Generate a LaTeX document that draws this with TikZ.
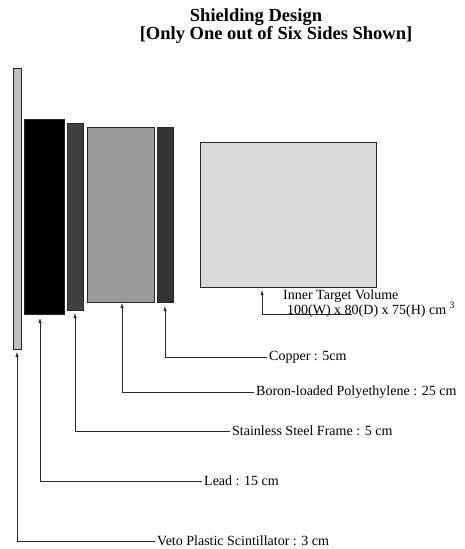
\documentclass[tikz,border=0pt]{standalone}
\usepackage{fontspec}
\setmainfont{Liberation Serif}
\usetikzlibrary{arrows.meta}
\tikzset{
	layer/.style={draw=black!85, line width=0.6pt},
	ttl/.style={anchor=base, inner sep=0pt, font=\fontsize{18.5}{19}\selectfont\bfseries},
	lbl/.style={anchor=west, inner sep=2pt, font=\fontsize{14}{14}\selectfont},
	pointer/.style={draw=black!85, line width=0.7pt, -{Latex[length=5pt,width=3.5pt]}},
}

\begin{document}
\begin{tikzpicture}[x=1pt, y=-1pt]
		\useasboundingbox (0,0) rectangle (465,549);
		%%%%% START %%%%%
		
		\node[ttl] (title) at (256,21) {Shielding Design};
		\node[ttl] (subtitle) at (276,39) {[Only One out of Six Sides Shown]};
		
		\draw[layer, fill=black!25] (13,68) rectangle (21,349);
		\draw[layer, fill=black] (24,119) rectangle (64,314);
		\draw[layer, fill=black!75] (67,123) rectangle (83,310);
		\draw[layer, fill=black!40] (87,127) rectangle (154,302);
		\draw[layer, fill=black!80] (157,127) rectangle (173,302);
		\draw[layer, fill=black!15] (200,142) rectangle (376,287);
		
		\coordinate (vetotip) at (17,352);
		\coordinate (leadtip) at (40,318);
		\coordinate (steeltip) at (75,313);
		\coordinate (polytip) at (122,303);
		\coordinate (coppertip) at (165,306);
		\coordinate (innertip) at (262,290);
		
		\node[lbl] (vetolbl) at (155,541) {Veto Plastic Scintillator : 3 cm};
		\node[lbl] (leadlbl) at (202,481) {Lead : 15 cm};
		\node[lbl] (steellbl) at (230,431) {Stainless Steel Frame : 5 cm};
		\node[lbl] (polylbl) at (254,392) {Boron-loaded Polyethylene : 25 cm};
		\node[lbl] (copperlbl) at (267,357) {Copper : 5cm};
		\node[lbl, anchor=base west, inner sep=0pt] (innername) at (283,299) {Inner Target Volume};
		\node[lbl, anchor=base west, inner sep=0pt] (innersize) at (287,314) {100(W) x 80(D) x 75(H) cm \textsuperscript{3}};
		
		\draw[pointer] (vetolbl.west) -| (vetotip);
		\draw[pointer] (leadlbl.west) -| (leadtip);
		\draw[pointer] (steellbl.west) -| (steeltip);
		\draw[pointer] (polylbl.west) -| (polytip);
		\draw[pointer] (copperlbl.west) -| (coppertip);
		\draw[pointer] ([xshift=65pt]innersize.base west) -| (innertip);
		
		%%%%% END %%%%%
	\end{tikzpicture}
\end{document}
